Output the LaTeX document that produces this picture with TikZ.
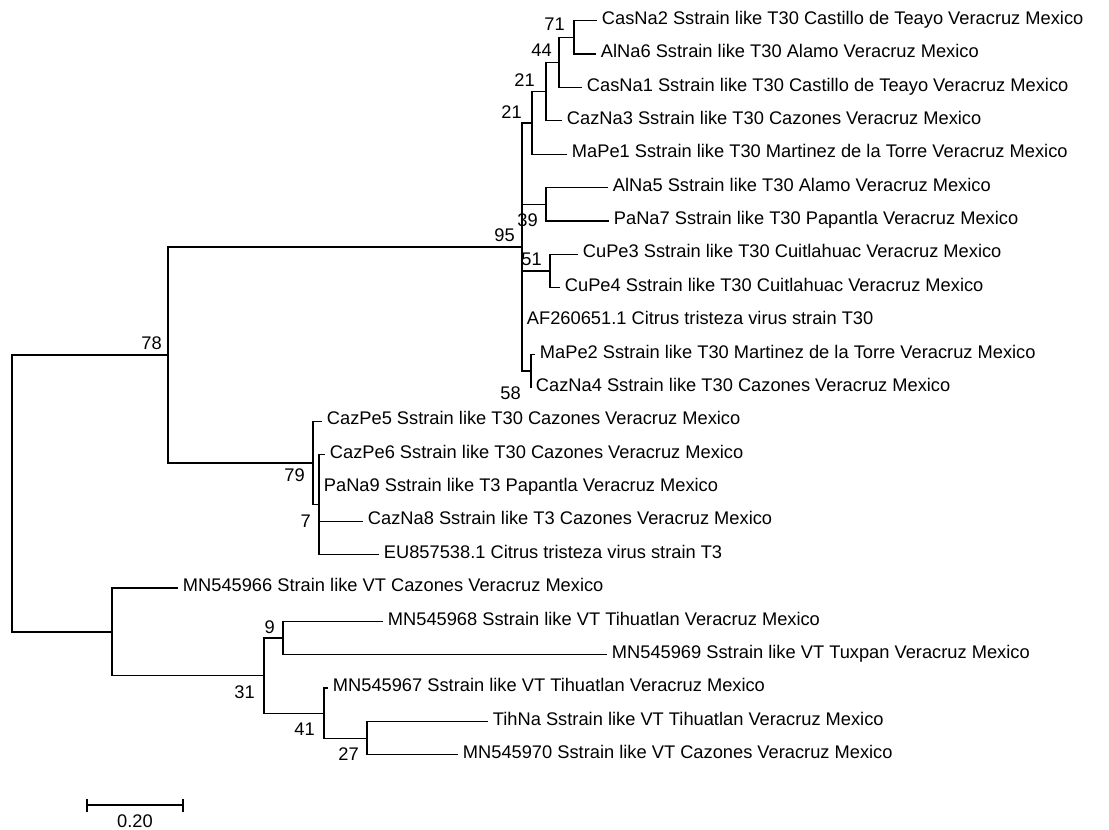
\documentclass[tikz,border=0pt]{standalone}
\usepackage{fontspec}
\setmainfont{Liberation Sans}
\tikzset{
  branch/.style={line width=1.1pt},
  leaf/.style={anchor=west, inner xsep=4pt, inner ysep=0pt, text height=0.72em, text depth=0.1em},
  boot/.style={anchor=east, inner sep=0pt},
}
\begin{document}
\begin{tikzpicture}[x=0.03cm,y=-0.03cm,font=\fontsize{15.6}{18}\selectfont]
  \useasboundingbox (0,0) rectangle (1109,829);
  % tips of the tree: index/tip x/label
  \foreach \i/\tx/\lab in {
      0/597/{CasNa2 Sstrain like T30 Castillo de Teayo Veracruz Mexico},
      1/596/{AlNa6 Sstrain like T30 Alamo Veracruz Mexico},
      2/582/{CasNa1 Sstrain like T30 Castillo de Teayo Veracruz Mexico},
      3/562/{CazNa3 Sstrain like T30 Cazones Veracruz Mexico},
      4/567/{MaPe1 Sstrain like T30 Martinez de la Torre Veracruz Mexico},
      5/608/{AlNa5 Sstrain like T30 Alamo Veracruz Mexico},
      6/609/{PaNa7 Sstrain like T30 Papantla Veracruz Mexico},
      7/578/{CuPe3 Sstrain like T30 Cuitlahuac Veracruz Mexico},
      8/560/{CuPe4 Sstrain like T30 Cuitlahuac Veracruz Mexico},
      9/522/{AF260651.1 Citrus tristeza virus strain T30},
      10/535/{MaPe2 Sstrain like T30 Martinez de la Torre Veracruz Mexico},
      11/531/{CazNa4 Sstrain like T30 Cazones Veracruz Mexico},
      12/322/{CazPe5 Sstrain like T30 Cazones Veracruz Mexico},
      13/325/{CazPe6 Sstrain like T30 Cazones Veracruz Mexico},
      14/319/{PaNa9 Sstrain like T3 Papantla Veracruz Mexico},
      15/363/{CazNa8 Sstrain like T3 Cazones Veracruz Mexico},
      16/379/{EU857538.1 Citrus tristeza virus strain T3},
      17/178/{MN545966 Strain like VT Cazones Veracruz Mexico},
      18/383/{MN545968 Sstrain like VT Tihuatlan Veracruz Mexico},
      19/607/{MN545969 Sstrain like VT Tuxpan Veracruz Mexico},
      20/328/{MN545967 Sstrain like VT Tihuatlan Veracruz Mexico},
      21/488/{TihNa Sstrain like VT Tihuatlan Veracruz Mexico},
      22/458/{MN545970 Sstrain like VT Cazones Veracruz Mexico}} {
    \coordinate (t\i) at (\tx,20.7+33.37*\i);
    \node[leaf] (l\i) at (t\i) {\lab};
  }
  % inner nodes
  \coordinate (root) at (12,493.4);
  \coordinate (n78) at (168,355);
  \coordinate (n95) at (522,247);
  \coordinate (n21b) at (532,122.9);
  \coordinate (n21a) at (546,91.6);
  \coordinate (n44) at (559,62.4);
  \coordinate (n71) at (574,37.4);
  \coordinate (n39) at (546,204.3);
  \coordinate (n51) at (550,271);
  \coordinate (n58) at (531,371.1);
  \coordinate (n79) at (313,462.9);
  \coordinate (n7) at (319,504.6);
  \coordinate (nvt) at (112,631.9);
  \coordinate (n31) at (264,675.7);
  \coordinate (n9) at (283,638.1);
  \coordinate (n41) at (324,713.2);
  \coordinate (n27) at (367,738.2);
  % branches
  \draw[branch] (root) |- (n78);
  \draw[branch] (root) |- (nvt);
  \draw[branch] (n78) |- (n95);
  \draw[branch] (n78) |- (n79);
  \draw[branch] (n95) |- (n21b);
  \draw[branch] (n95) |- (n39);
  \draw[branch] (n95) |- (n51);
  \draw[branch] (n95) |- (t9);
  \draw[branch] (n95) |- (n58);
  \draw[branch] (n21b) |- (n21a);
  \draw[branch] (n21b) |- (t4);
  \draw[branch] (n21a) |- (n44);
  \draw[branch] (n21a) |- (t3);
  \draw[branch] (n44) |- (n71);
  \draw[branch] (n44) |- (t2);
  \draw[branch] (n71) |- (t0);
  \draw[branch] (n71) |- (t1);
  \draw[branch] (n39) |- (t5);
  \draw[branch] (n39) |- (t6);
  \draw[branch] (n51) |- (t7);
  \draw[branch] (n51) |- (t8);
  \draw[branch] (n58) |- (t10);
  \draw[branch] (n58) |- (t11);
  \draw[branch] (n79) |- (t12);
  \draw[branch] (n79) |- (n7);
  \draw[branch] (n7) |- (t13);
  \draw[branch] (n7) |- (t14);
  \draw[branch] (n7) |- (t15);
  \draw[branch] (n7) |- (t16);
  \draw[branch] (nvt) |- (t17);
  \draw[branch] (nvt) |- (n31);
  \draw[branch] (n31) |- (n9);
  \draw[branch] (n31) |- (n41);
  \draw[branch] (n9) |- (t18);
  \draw[branch] (n9) |- (t19);
  \draw[branch] (n41) |- (t20);
  \draw[branch] (n41) |- (n27);
  \draw[branch] (n27) |- (t21);
  \draw[branch] (n27) |- (t22);
  % bootstrap values
  \node[boot] (b71) at (565,24.5) {71};
  \node[boot] (b44) at (552,50.5) {44};
  \node[boot] (b21a) at (535,80) {21};
  \node[boot] (b21b) at (522,112) {21};
  \node[boot] (b95) at (515,235) {95};
  \node[boot] (b39) at (538,220) {39};
  \node[boot] (b51) at (542,259) {51};
  \node[boot] (b58) at (521,393) {58};
  \node[boot] (b78) at (162,343) {78};
  \node[boot] (b79) at (305,475) {79};
  \node[boot] (b7) at (311,521) {7};
  \node[boot] (b9) at (275,627) {9};
  \node[boot] (b31) at (255,692) {31};
  \node[boot] (b41) at (315,729) {41};
  \node[boot] (b27) at (359,754) {27};
  % scale bar
  \coordinate (s0) at (87,805);
  \coordinate (s1) at (183,805);
  \draw[branch] (s0) -- (s1);
  \draw[branch] (s0) ++(0,-6.5) -- ++(0,13);
  \draw[branch] (s1) ++(0,-6.5) -- ++(0,13);
  \node (sval) at (135,821) {0.20};
\end{tikzpicture}
\end{document}
